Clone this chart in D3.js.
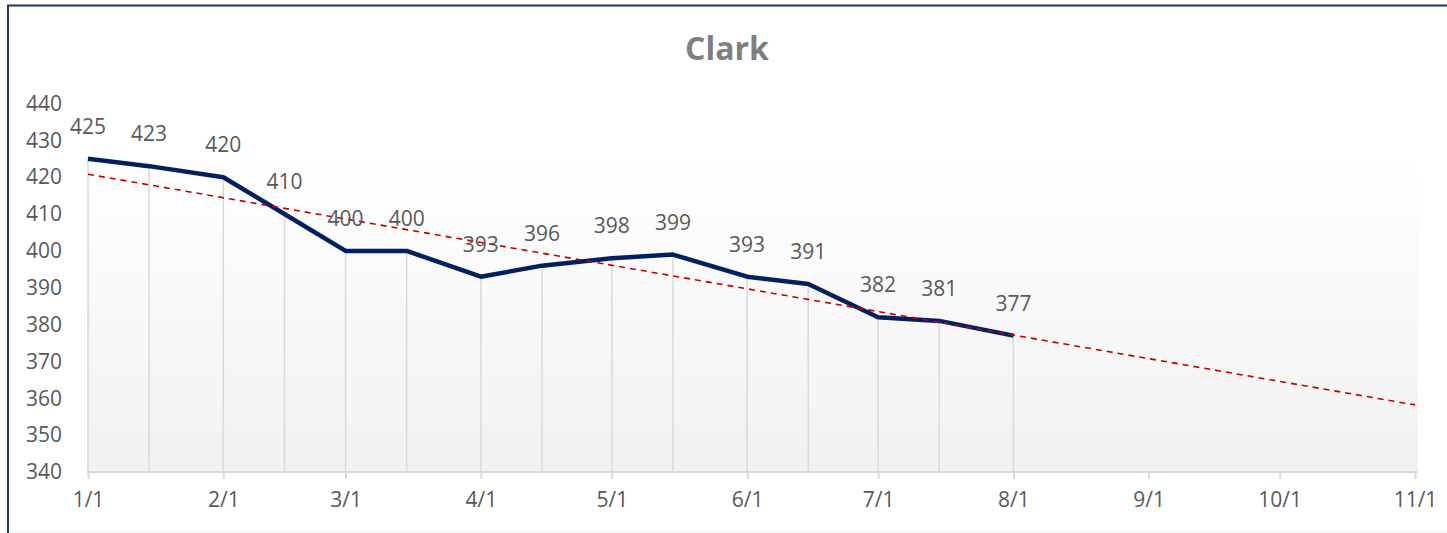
<!DOCTYPE html>
<html>
<head>
<meta charset="utf-8">
<script src="https://cdn.jsdelivr.net/npm/d3@7"></script>
<style>
  html, body { margin: 0; padding: 0; background: #fff; }
  svg { display: block; }
</style>
</head>
<body>
<svg id="chart" width="1447" height="533"></svg>
<script>
// ---- data ----
const title = "Clark";
const dates = ["2021-01-01","2021-01-15","2021-02-01","2021-02-15","2021-03-01","2021-03-15",
               "2021-04-01","2021-04-15","2021-05-01","2021-05-15","2021-06-01","2021-06-15",
               "2021-07-01","2021-07-15","2021-08-01"];
const values = [425, 423, 420, 410, 400, 400, 393, 396, 398, 399, 393, 391, 382, 381, 377];
const xTickDates = ["2021-01-01","2021-02-01","2021-03-01","2021-04-01","2021-05-01","2021-06-01",
                    "2021-07-01","2021-08-01","2021-09-01","2021-10-01","2021-11-01"];
const yTicks = [340, 350, 360, 370, 380, 390, 400, 410, 420, 430, 440];
const trendEnd = "2021-11-01";

const parse = d3.utcParse("%Y-%m-%d");
const data = dates.map((d, i) => ({ date: parse(d), value: values[i] }));

const svg = d3.select("#chart");
const font = "'Open Sans', sans-serif";

// frame
svg.append("line").attr("x1", 8).attr("x2", 8).attr("y1", 5).attr("y2", 533)
  .attr("stroke", "#1f3864").attr("stroke-width", 2);
svg.append("line").attr("x1", 7).attr("x2", 1447).attr("y1", 5.5).attr("y2", 5.5)
  .attr("stroke", "#1f3864").attr("stroke-width", 2);
svg.append("line").attr("x1", 9).attr("x2", 1447).attr("y1", 532).attr("y2", 532)
  .attr("stroke", "#eeeeee").attr("stroke-width", 1);

const x = d3.scaleUtc()
  .domain([parse(xTickDates[0]), parse(xTickDates[xTickDates.length - 1])])
  .range([88, 1415]);
const y = d3.scaleLinear().domain([340, 440]).range([472, 103.5]);

// plot background gradient
const defs = svg.append("defs");
const grad = defs.append("linearGradient").attr("id", "bg").attr("x1", 0).attr("y1", 0).attr("x2", 0).attr("y2", 1);
grad.append("stop").attr("offset", "0%").attr("stop-color", "#ffffff");
grad.append("stop").attr("offset", "15%").attr("stop-color", "#ffffff");
grad.append("stop").attr("offset", "100%").attr("stop-color", "#f1f1f1");
svg.append("rect").attr("x", 87).attr("y", 103.5).attr("width", 1418 - 87).attr("height", 472 - 103.5)
  .attr("fill", "url(#bg)");

// title
svg.append("text").attr("x", 727).attr("y", 60).attr("text-anchor", "middle")
  .attr("font-family", font).attr("font-weight", "bold").attr("font-size", 32)
  .attr("fill", "#7f7f7f").text(title);

// y axis labels
const yAxis = d3.axisLeft(y).tickValues(yTicks).tickSize(0).tickPadding(0);
const yg = svg.append("g").attr("transform", "translate(62,0)").call(yAxis);
yg.select(".domain").remove();
yg.selectAll("text").attr("font-family", font).attr("font-size", 21).attr("fill", "#595959");

// drop lines
svg.append("g").selectAll("line").data(data).join("line")
  .attr("x1", d => x(d.date)).attr("x2", d => x(d.date))
  .attr("y1", d => y(d.value)).attr("y2", y(340))
  .attr("stroke", "#d9d9d9").attr("stroke-width", 1.5);

// x axis
const xAxis = d3.axisBottom(x).tickValues(xTickDates.map(parse))
  .tickFormat(d3.utcFormat("%-m/%-d")).tickSize(7).tickPadding(13);
const xg = svg.append("g").attr("transform", `translate(0,${y(340)})`).call(xAxis);
xg.select(".domain").attr("d", `M87,0H1418`).attr("stroke", "#d9d9d9").attr("stroke-width", 2);
xg.selectAll(".tick line").attr("stroke", "#d9d9d9").attr("stroke-width", 2);
xg.selectAll("text").attr("font-family", font).attr("font-size", 21).attr("fill", "#595959");

// trendline (least-squares on dates)
const t0 = data[0].date.getTime();
const xs = data.map(d => (d.date.getTime() - t0) / 864e5);
const mx = d3.mean(xs), my = d3.mean(values);
const slope = d3.sum(xs, (v, i) => (v - mx) * (values[i] - my)) / d3.sum(xs, v => (v - mx) * (v - mx));
const icpt = my - slope * mx;
const endDate = parse(trendEnd);
const endDay = (endDate.getTime() - t0) / 864e5;
const trend = [{ date: data[0].date, value: icpt }, { date: endDate, value: icpt + slope * endDay }];

// main line
const line = d3.line().x(d => x(d.date)).y(d => y(d.value));
svg.append("path").datum(data).attr("d", line)
  .attr("fill", "none").attr("stroke", "#002060").attr("stroke-width", 4.5)
  .attr("stroke-linejoin", "round");

svg.append("path").datum(trend).attr("d", line)
  .attr("fill", "none").attr("stroke", "#c00000").attr("stroke-width", 1.6)
  .attr("stroke-dasharray", "6,5");

// data labels
svg.append("g").selectAll("text").data(data).join("text")
  .attr("x", d => x(d.date)).attr("y", d => y(d.value) - 25)
  .attr("text-anchor", "middle").attr("font-family", font).attr("font-size", 21)
  .attr("fill", "#595959").text(d => d.value);
</script>
</body>
</html>
